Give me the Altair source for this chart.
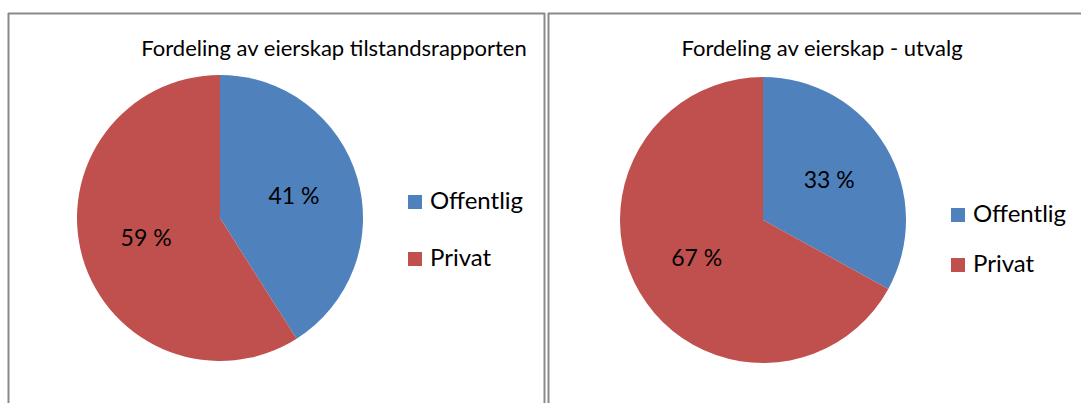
import altair as alt
import pandas as pd

# ---- data ----
categories = ["Offentlig", "Privat"]
left_values = [41, 59]
right_values = [33, 67]
left_labels = ["41 %", "59 %"]
right_labels = ["33 %", "67 %"]
titles = ["Fordeling av eierskap tilstandsrapporten", "Fordeling av eierskap - utvalg"]
colors = ["#4F81BD", "#C0504D"]

FONT = "Lato"
GRAY = "#8a8a8a"


def pie_df(values, labels):
    return pd.DataFrame({
        "Kategori": categories,
        "Andel": values,
        "Etikett": labels,
        "Rekkefolge": list(range(len(categories))),
    })


def pie_layers(df, cx, cy, legend_x, legend_y, row_pad):
    base = alt.Chart(df).encode(
        theta=alt.Theta("Andel:Q", stack=True),
        order=alt.Order("Rekkefolge:Q"),
    )
    arc = base.mark_arc(radius=143).encode(
        x=alt.value(cx),
        y=alt.value(cy),
        color=alt.Color(
            "Kategori:N",
            scale=alt.Scale(domain=categories, range=colors),
            legend=alt.Legend(
                title=None, orient="none", legendX=legend_x, legendY=legend_y,
                symbolType="square", symbolSize=196, symbolStrokeWidth=0,
                labelFontSize=24, labelFont=FONT, labelColor="black",
                rowPadding=row_pad, labelOffset=3, padding=0,
            ),
        ),
    )
    text = base.mark_text(radius=77, fontSize=23, font=FONT, color="black").encode(
        x=alt.value(cx), y=alt.value(cy), text="Etikett:N", detail="Kategori:N"
    )
    return [arc, text]


dummy = pd.DataFrame({"a": [0]})


def vrule(x, y1, y2):
    return alt.Chart(dummy).mark_rule(color=GRAY, strokeWidth=2).encode(
        x=alt.value(x), y=alt.value(y1), y2=alt.value(y2))


def hrule(x1, x2, y):
    return alt.Chart(dummy).mark_rule(color=GRAY, strokeWidth=2).encode(
        x=alt.value(x1), x2=alt.value(x2), y=alt.value(y))


def title_layer(t, cx, cy):
    return alt.Chart(pd.DataFrame({"t": [t]})).mark_text(
        fontSize=22, font=FONT, color="black", baseline="middle", align="center"
    ).encode(text="t:N", x=alt.value(cx), y=alt.value(cy))


layers = [
    vrule(8.5, 13, 403), hrule(8, 545, 13.5), vrule(544.5, 13, 403),
    vrule(548.5, 13, 403), hrule(548, 1081, 13.5),
    title_layer(titles[0], 334, 49),
    title_layer(titles[1], 822, 49),
]
layers += pie_layers(pie_df(left_values, left_labels), 220, 218, 403, 190, 33)
layers += pie_layers(pie_df(right_values, right_labels), 763, 220, 946, 203, 26)

chart = alt.layer(*layers).resolve_scale(
    color="independent", theta="independent"
).properties(
    width=1081, height=403, padding=0,
    autosize=alt.AutoSizeParams(type="none"),
).configure_view(stroke=None)

chart.save("out.html", embed_options={"renderer": "svg", "actions": False})
